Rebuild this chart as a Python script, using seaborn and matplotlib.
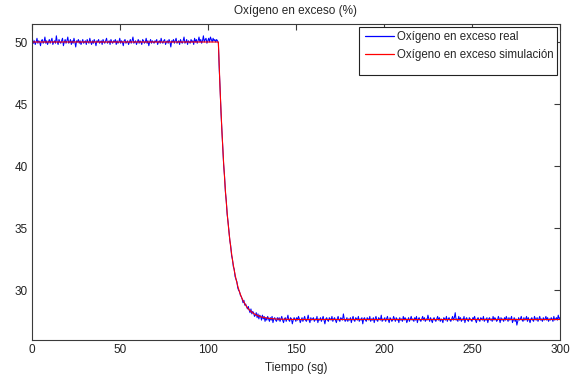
import numpy as np
import pandas as pd
import matplotlib
matplotlib.use("Agg")
import matplotlib.pyplot as plt
from matplotlib.patches import Rectangle
import seaborn as sns

# Measured excess oxygen (%), sampled every 0.5 s from t = 0 to 300 s
oxigeno_real = [
    # 0 - 105.5 s: steady operation around 50 %
    50.0, 50.2, 49.9, 50.1, 49.8, 50.0, 50.3, 49.9, 50.1, 50.0, 49.7, 50.1, 50.2, 49.9, 50.0, 50.4, 49.9, 50.1, 49.8, 50.0,
    50.2, 49.9, 50.1, 50.3, 49.8, 50.0, 50.1, 49.9, 50.5, 50.0, 49.8, 50.2, 50.0, 49.9, 50.1, 50.3, 49.7, 50.0, 50.2, 49.9,
    50.1, 50.4, 49.9, 50.0, 50.2, 49.8, 50.1, 49.9, 50.3, 50.0, 49.6, 50.1, 50.0, 50.2, 49.9, 50.1, 49.8, 50.0, 50.2, 49.9,
    50.0, 50.1, 49.8, 50.2, 50.0, 49.9, 50.3, 50.0, 49.8, 50.1, 49.9, 50.2, 50.0, 49.7, 50.1, 50.0, 50.2, 49.9, 50.0, 50.1,
    49.8, 50.2, 50.0, 49.9, 50.1, 50.3, 49.9, 50.0, 50.1, 49.8, 50.2, 50.0, 49.9, 50.1, 50.0, 50.2, 49.8, 50.1, 49.9, 50.0,
    50.3, 49.9, 50.1, 50.0, 49.7, 50.1, 50.2, 49.9, 50.0, 50.1, 49.8, 50.0, 50.2, 49.9, 50.1, 50.4, 49.9, 50.0, 50.1, 49.8,
    50.0, 50.2, 49.9, 50.1, 50.0, 49.8, 50.2, 50.1, 49.9, 50.0, 50.3, 49.9, 50.1, 49.7, 50.0, 50.2, 49.9, 50.1, 50.0, 49.9,
    50.1, 50.0, 50.2, 49.8, 50.0, 50.1, 49.9, 50.3, 50.0, 49.9, 50.1, 50.2, 49.8, 50.0, 50.1, 49.9, 50.2, 50.0, 49.6, 50.1,
    50.0, 50.2, 49.9, 50.1, 50.3, 49.9, 50.0, 50.1, 49.8, 50.2, 50.0, 49.9, 50.1, 50.4, 49.9, 50.0, 50.2, 49.8, 50.1, 50.0,
    49.9, 50.2, 50.0, 50.1, 49.8, 50.3, 50.0, 50.2, 49.9, 50.1, 50.4, 50.0, 50.2, 49.9, 50.1, 50.5, 50.0, 50.2, 50.3, 49.9,
    50.1, 50.3, 50.0, 50.4, 50.2, 50.0, 50.3, 50.1, 50.2, 50.0, 50.2, 50.1,
    # 106 - 119.5 s: step down
    49.9, 47.8, 46.2, 44.3, 42.9, 41.6, 40.1, 39.2, 37.9, 37.2, 36.1, 35.5, 34.8, 34.0,
    33.6, 32.8, 32.5, 31.9, 31.7, 31.1, 30.9, 30.7, 30.2, 30.0, 29.9, 29.6, 29.5, 29.3,
    # 120 - 300 s: settling and new steady state
    29.0, 29.2, 28.8, 28.9, 28.7, 28.5, 28.7, 28.4, 28.2, 28.5, 28.1, 28.3, 28.2, 27.9, 28.0, 28.2, 27.8, 28.1, 27.7, 28.0,
    27.9, 27.6, 28.0, 27.7, 27.9, 27.5, 27.8, 27.6, 27.9, 27.7, 27.5, 27.8, 27.6, 27.9, 27.4, 27.7, 27.8, 27.6, 27.5, 27.8,
    27.6, 27.8, 27.5, 27.7, 27.9, 27.6, 27.4, 27.7, 27.8, 27.5, 27.7, 28.0, 27.6, 27.5, 27.8, 27.7, 27.3, 27.6, 27.8, 27.7,
    27.5, 27.8, 27.6, 27.9, 27.7, 27.4, 27.6, 27.8, 27.5, 27.7, 27.9, 27.6, 27.5, 27.7, 28.0, 27.6, 27.4, 27.8, 27.6, 27.7,
    27.8, 27.5, 27.7, 27.6, 27.9, 27.4, 27.7, 27.6, 27.8, 27.5, 27.7, 27.9, 27.6, 27.3, 27.7, 27.8, 27.6, 27.5, 27.8, 27.7,
    27.6, 27.9, 27.5, 27.7, 27.8, 27.6, 27.4, 27.7, 27.9, 27.6, 27.5, 27.8, 27.7, 27.6, 28.1, 27.7, 27.5, 27.6, 27.8, 27.5,
    27.7, 27.6, 27.8, 27.4, 27.7, 27.9, 27.6, 27.5, 27.8, 27.7, 27.6, 27.9, 27.5, 27.7, 27.6, 27.8, 27.3, 27.7, 27.8, 27.6,
    27.5, 27.8, 27.7, 27.6, 27.9, 27.5, 27.7, 27.6, 27.8, 27.4, 27.7, 27.9, 27.6, 27.5, 27.8, 27.7, 27.6, 28.0, 27.5, 27.7,
    27.6, 27.8, 27.5, 27.7, 27.9, 27.6, 27.4, 27.8, 27.7, 27.5, 27.6, 27.9, 27.7, 27.5, 27.8, 27.6, 27.7, 27.4, 27.8, 27.6,
    27.7, 27.5, 27.9, 27.6, 27.8, 27.7, 27.4, 27.6, 27.8, 27.5, 27.7, 27.9, 27.6, 27.7, 27.5, 27.8, 27.6, 27.9, 27.4, 27.7,
    27.8, 27.6, 27.5, 27.7, 27.9, 27.6, 27.8, 27.5, 27.7, 27.6, 28.0, 27.7, 27.5, 27.8, 27.6, 27.4, 27.7, 27.8, 27.6, 27.5,
    27.7, 27.9, 27.6, 27.8, 27.5, 27.7, 27.6, 27.4, 27.8, 27.7, 27.6, 27.9, 27.5, 27.7, 27.8, 27.6, 27.5, 27.7, 27.9, 27.6,
    27.8, 28.2, 27.6, 27.7, 27.5, 27.9, 27.6, 27.8, 27.5, 27.7, 27.6, 27.9, 27.4, 27.7, 27.8, 27.6, 27.5, 27.8, 27.7, 27.6,
    27.5, 27.8, 27.7, 27.9, 27.6, 27.4, 27.7, 27.8, 27.6, 27.5, 27.8, 27.7, 27.6, 27.9, 27.5, 27.7, 27.6, 27.8, 27.4, 27.7,
    27.8, 27.6, 27.7, 27.5, 27.9, 27.6, 27.8, 27.7, 27.5, 27.6, 27.9, 27.7, 27.4, 27.8, 27.6, 27.7, 27.5, 27.8, 27.6, 27.9,
    27.7, 27.5, 27.8, 27.6, 27.7, 27.9, 27.4, 27.6, 27.8, 27.5, 27.7, 27.2, 27.5, 27.8, 27.6, 27.7, 27.9, 27.6, 27.5, 27.8,
    27.6, 27.7, 27.9, 27.5, 27.8, 27.6, 27.4, 27.7, 27.8, 27.6, 27.5, 27.9, 27.7, 27.6, 27.8, 27.5, 27.7, 27.9, 27.6, 27.7,
    27.5, 27.8, 27.6, 27.7, 27.9, 27.6, 27.8, 27.5, 27.7, 27.6, 27.8, 27.7, 27.5, 27.9, 27.6, 27.7, 27.8, 27.6, 28.0, 27.7,
    27.8,
]
tiempo_real = np.arange(len(oxigeno_real)) * 0.5

# Simulated response (s, %)
tiempo_sim = [0, 106, 107, 108, 109, 110, 111, 112, 113, 114, 115, 116,
              117, 118, 119, 120, 122, 124, 126, 128, 130, 133, 136, 140,
              150, 300]
oxigeno_sim = [50.0, 50.0, 46.09, 42.87, 40.21, 38.02, 36.21, 34.71, 33.48,
               32.46, 31.62, 30.92, 30.35, 29.88, 29.49, 29.17, 28.69, 28.36,
               28.13, 27.98, 27.87, 27.78, 27.72, 27.68, 27.65, 27.65]

xticks = [0, 50, 100, 150, 200, 250, 300]
yticks = [30, 35, 40, 45, 50]

titulo = "Oxígeno en exceso (%)"
etiqueta_x = "Tiempo (sg)"
leyenda = ["Oxígeno en exceso real", "Oxígeno en exceso simulación"]

sns.set_theme(style="white")
plt.rcParams["font.family"] = ["Liberation Sans", "DejaVu Sans"]
plt.rcParams["font.size"] = 8.5

W, H = 578, 376
fig = plt.figure(figsize=(W / 100, H / 100), dpi=100)
ax = fig.add_axes([31.7 / W, 1 - 340 / H, (560 - 31.7) / W, (340 - 24) / H])

real_df = pd.DataFrame({"t": tiempo_real, "o2": oxigeno_real})
sim_df = pd.DataFrame({"t": tiempo_sim, "o2": oxigeno_sim})

sns.lineplot(data=real_df, x="t", y="o2", ax=ax, color=(0, 0, 1),
             lw=0.75, label=leyenda[0], estimator=None)
sns.lineplot(data=sim_df, x="t", y="o2", ax=ax, color=(1, 0, 0),
             lw=0.8, label=leyenda[1], estimator=None)

ax.set_xlim(0, 300)
ax.set_ylim(26, 51.45)
ax.set_xticks(xticks)
ax.set_yticks(yticks)
ax.set_xlabel(etiqueta_x, fontsize=8.5, labelpad=4)
ax.set_ylabel("")
ax.set_title(titulo, fontsize=8.5, pad=7.5)

for s in ax.spines.values():
    s.set_visible(True)
    s.set_color("#3a3a3a")
    s.set_linewidth(0.8)
ax.tick_params(direction="in", length=4, width=0.8, color="#3a3a3a",
               top=True, right=True, labelsize=8.5, labelcolor="#222222",
               pad=3)

# Legend box with extra room below the entries
handles, labels = ax.get_legend_handles_labels()
box = Rectangle((359 / W, 1 - 75 / H), (557 - 359) / W, 48 / H,
                transform=fig.transFigure, facecolor="white",
                edgecolor="#222222", lw=0.8, zorder=5, clip_on=False)
ax.add_patch(box)
leg = ax.legend(handles, labels, loc="upper left",
                bbox_to_anchor=(365 / W, 1 - 31 / H),
                bbox_transform=fig.transFigure, frameon=False,
                fontsize=8.3, handlelength=2.55, handletextpad=0.25,
                labelspacing=0.5, borderpad=0.0, borderaxespad=0.0)
leg.set_zorder(6)
for line in leg.get_lines():
    line.set_linewidth(0.9)

fig.savefig("out.png", dpi=100)
